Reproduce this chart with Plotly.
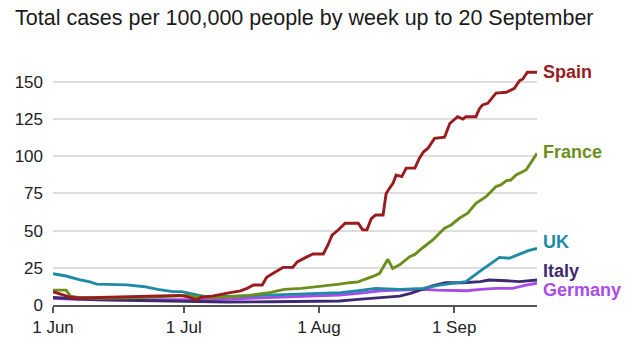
import pandas as pd
import plotly.graph_objects as go

START = "2020-06-01"
END = "2020-09-20"

spain_days = [0, 2, 4, 6, 10, 15, 20, 25, 29, 31, 32, 33, 34, 36.5, 40, 43, 44.5, 46, 48, 49, 50.5, 52.8, 55,
              56, 58, 59.6, 62, 63, 64, 65.4, 67, 70, 71, 72, 73, 74, 75.7, 76.4, 77.2, 78, 78.7, 80, 81, 83,
              84, 85, 86, 87.5, 89.8, 91, 92.8, 94, 94.7, 97, 97.8, 98.5, 99.7, 101.6, 104, 105.8, 107, 107.7,
              108.8, 111]
spain_vals = [9, 7, 5.2, 4.7, 5, 5.5, 5.5, 6, 6.5, 5.5, 4.5, 3.4, 5.2, 6, 8, 9.5, 11.2, 13.4, 13.4, 18.6,
              21.3, 25.3, 25.3, 29, 32, 34.3, 34.3, 40, 47, 50.4, 55, 55, 50.5, 50.5, 58, 60.5, 60.5, 75,
              78.6, 82, 87.4, 86.3, 92, 92, 98.6, 103, 105.4, 112, 112.8, 122, 126.6, 125, 126.6, 126.6,
              132, 134.5, 135.6, 142.4, 143, 145.7, 150.8, 151.8, 156.5, 156.5]

france_days = [0, 3, 4, 6, 10, 20, 28, 31, 33, 36, 40, 45, 50, 53, 57, 60, 63.5, 65.7, 68, 70, 71.5, 73.4,
               74.9, 76, 76.8, 77.9, 79.5, 81.8, 83, 84.8, 86.3, 87.1, 89.8, 91.3, 93.2, 95.1, 97, 99.3,
               101.6, 102.7, 104, 105, 106.2, 108.5, 111]
france_vals = [10, 10, 6, 5, 4.5, 5, 6, 6.5, 5.5, 5, 5.5, 6.5, 8.5, 10.5, 11.2, 12, 13, 14, 15, 15.5, 17.3,
               19.2, 21.3, 27, 30.7, 24.5, 27, 32.5, 34, 38.5, 42, 43.7, 51.6, 53.8, 58.3, 61.7, 68.4, 72.8,
               79.6, 80.7, 83.6, 84, 87.4, 90.8, 102]

uk_days = [0, 3, 6, 8.5, 10, 17, 21, 24, 27.5, 29.5, 33, 35, 43, 49, 56, 62, 66, 70, 74, 79.5, 85, 88.6,
           92.4, 94.7, 97.8, 100, 102.4, 104.6, 107, 109, 111]
uk_vals = [21, 19.5, 17, 15.5, 14, 13.5, 12.3, 10.5, 9, 9, 6.7, 5.6, 6, 6.7, 7.2, 7.8, 8.3, 9.6, 11.2, 10.5,
           11.2, 13.4, 15, 15.7, 22.4, 27, 32, 31.4, 34.3, 36.5, 38]

italy_days = [0, 5, 10, 20, 30, 40, 50, 60, 65.7, 70, 75, 79.5, 82, 84, 87, 90, 94, 98, 100, 104, 107, 111]
italy_vals = [5, 4, 3.5, 3, 2.5, 2, 2.2, 2.5, 2.7, 3.8, 5.2, 6, 7.8, 10, 12.8, 15, 15, 15.7, 16.8, 16.3,
              15.7, 16.8]

germany_days = [0, 5, 15, 30, 35, 45, 55, 60, 65.7, 70, 75, 79.5, 85, 88, 92, 95, 98, 101.6, 105.4, 108.5, 111]
germany_vals = [4.5, 3.8, 3.5, 3.2, 3.5, 4.5, 5.5, 6, 6.7, 7.8, 9.6, 10, 10.5, 10, 9.6, 9.6, 10.5, 11.2,
                11.2, 13.4, 14.6]

countries = ["Germany", "Italy", "UK", "France", "Spain"]
colors = {"Spain": "#9a1b1e", "France": "#6b8f1a", "UK": "#1f8aa6",
          "Italy": "#3f2a72", "Germany": "#a94bea"}
label_y = {"Spain": 156.7, "France": 102.9, "UK": 42.5, "Italy": 22.6, "Germany": 10.0}
series = {"Spain": (spain_days, spain_vals), "France": (france_days, france_vals),
          "UK": (uk_days, uk_vals), "Italy": (italy_days, italy_vals),
          "Germany": (germany_days, germany_vals)}

y_ticks = [0, 25, 50, 75, 100, 125, 150]
x_ticks = ["2020-06-01", "2020-07-01", "2020-08-01", "2020-09-01"]
x_tick_labels = ["1 Jun", "1 Jul", "1 Aug", "1 Sep"]

start = pd.Timestamp(START)
fig = go.Figure()
for c in countries:
    d, v = series[c]
    dates = start + pd.to_timedelta(d, unit="D")
    fig.add_trace(go.Scatter(x=dates, y=v, mode="lines", name=c,
                             line=dict(color=colors[c], width=2.9), hoverinfo="skip"))
    fig.add_annotation(x=END, y=label_y[c], xref="x", yref="y", text="<b>%s</b>" % c,
                       showarrow=False, xanchor="left", yanchor="middle", xshift=4,
                       font=dict(size=18, color=colors[c], family="Liberation Sans"))

fig.update_layout(
    width=640, height=360,
    margin=dict(l=53, r=103, t=67, b=55),
    paper_bgcolor="white", plot_bgcolor="white",
    showlegend=False,
    font=dict(family="Liberation Sans", color="#222222", size=17),
    title=dict(text="Total cases per 100,000 people by week up to 20 September",
               x=15 / 640, xref="container", xanchor="left",
               y=1 - 17 / 360, yref="container", yanchor="middle",
               font=dict(size=21.5, color="#1a1a1a", family="Liberation Sans")),
)
fig.update_xaxes(range=[START, END], tickvals=x_ticks, ticktext=x_tick_labels,
                 showgrid=False, showline=True, linecolor="#555555", linewidth=1.5,
                 ticks="outside", ticklen=6, tickcolor="#555555", tickwidth=1.5,
                 tickfont=dict(size=17, color="#222222"), zeroline=False)
fig.update_yaxes(range=[0, 160], tickvals=y_ticks, showgrid=True, gridcolor="#dddddd",
                 gridwidth=1.5, zeroline=False, showline=False, ticks="",
                 ticklabelstandoff=9, tickfont=dict(size=17, color="#222222"))

fig.write_html("out.html", config={"displayModeBar": False},
               post_script="document.body.style.margin='0';document.body.style.overflow='hidden';")
